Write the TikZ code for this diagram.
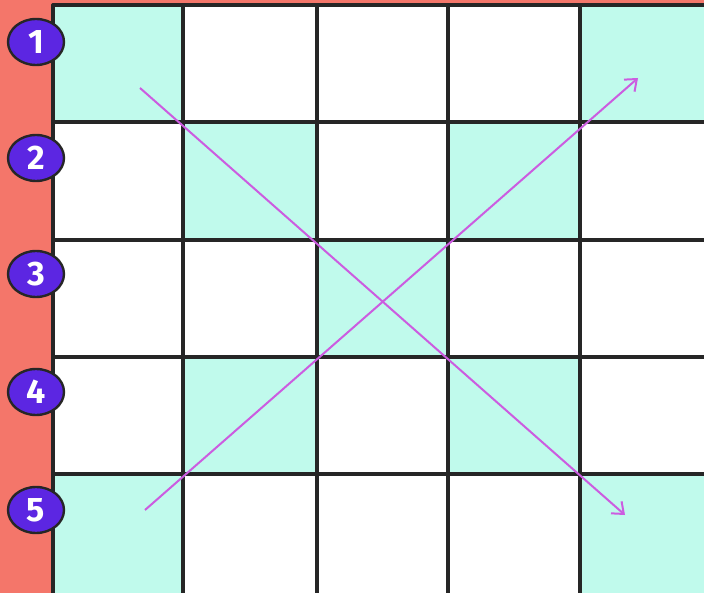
\documentclass[tikz,border=0pt]{standalone}
\usepackage{fontspec}
\setsansfont{Fira Sans}
\usetikzlibrary{arrows.meta, positioning, calc, shapes.geometric}
\definecolor{salmon}{RGB}{244,118,106}
\definecolor{mint}{RGB}{192,250,236}
\definecolor{badge}{RGB}{92,38,226}
\definecolor{arrowpink}{RGB}{204,92,224}

\tikzset{
  gridline/.style={line width=3.4pt, black!85, line cap=round},
  numbadge/.style={ellipse, fill=badge, draw=black!85, line width=2.4pt,
    minimum width=56pt, minimum height=46pt, inner sep=0pt,
    text=white, font=\sffamily\bfseries\fontsize{34}{34}\selectfont},
  diag/.style={arrowpink, line width=2pt, -{Straight Barb[length=10pt, width=16pt]}}
}

\begin{document}
\begin{tikzpicture}[x=1pt, y=-1pt]
  \useasboundingbox (0,0) rectangle (704,593);
  % background strip
  \fill[salmon] (0,0) rectangle (704,593);
  \fill[white] (53,5) rectangle (704,593);
  % mint cells (col/row)
  \foreach \c/\r in {1/1, 5/1, 2/2, 4/2, 3/3, 2/4, 4/4, 1/5, 5/5} {
    \pgfmathsetmacro{\xa}{{53,183,317,448,580,704}[\c-1]}
    \pgfmathsetmacro{\xb}{{53,183,317,448,580,704}[\c]}
    \pgfmathsetmacro{\ya}{{5,122,240,357,474,593}[\r-1]}
    \pgfmathsetmacro{\yb}{{5,122,240,357,474,593}[\r]}
    \fill[mint] (\xa,\ya) rectangle (\xb,\yb);
  }
  % grid lines
  \foreach \x in {53,183,317,448,580}
    \draw[gridline] (\x,5) -- (\x,593);
  \foreach \y in {5,122,240,357,474}
    \draw[gridline] (53,\y) -- (704,\y);
  % diagonals
  \coordinate (tl) at (140,88);
  \coordinate (br) at (625,515);
  \coordinate (bl) at (145,510);
  \coordinate (tr) at (638,78);
  \draw[diag] (tl) -- (br);
  \draw[diag] (bl) -- (tr);
  % row numbers
  \node[numbadge] (n1) at (36,42) {1};
  \node[numbadge] (n2) at (36,158) {2};
  \node[numbadge] (n3) at (36,274) {3};
  \node[numbadge] (n4) at (36,392) {4};
  \node[numbadge] (n5) at (36,510) {5};
\end{tikzpicture}
\end{document}
